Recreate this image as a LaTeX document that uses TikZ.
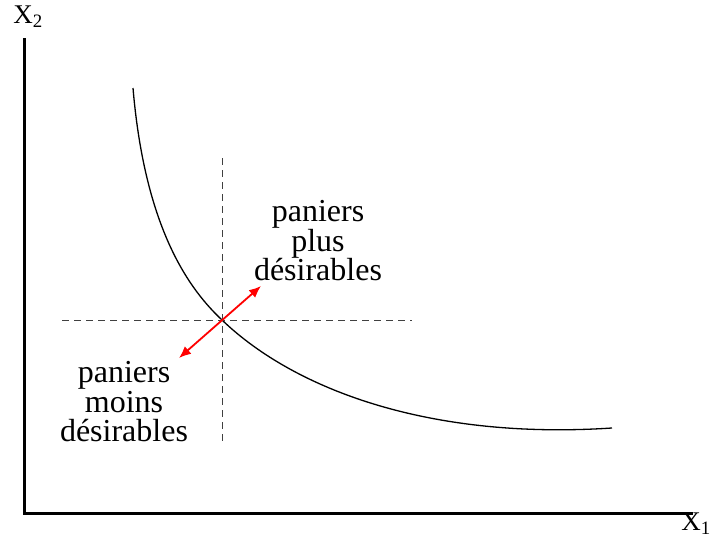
\documentclass[tikz,border=0pt]{standalone}
\usepackage{fontspec}
\setmainfont{Liberation Serif}
\usepackage{tikz}
\usetikzlibrary{arrows.meta}

\begin{document}
\begin{tikzpicture}[x=1pt,y=-1pt]
    \useasboundingbox (0,0) rectangle (713,538);
    % axes
    \coordinate (origin) at (24,513);
    \coordinate (x2-end) at (24,38);
    \coordinate (x1-end) at (693,513);
    \draw[line width=3pt] (x2-end) -- (origin) -- (x1-end);
    \node[font=\fontsize{27}{27}\selectfont] (x2-label) at (28,17) {X\textsubscript{2}};
    \node[font=\fontsize{27}{27}\selectfont, inner sep=0pt, anchor=east] (x1-label) at (711,524) {X\textsubscript{1}};

    % indifference curve
    \coordinate (basket) at (222,320);
    \draw[line width=1.3pt] (133,88) .. controls (145,230) and (190,290) .. (basket)
      .. controls (295,390) and (430,440) .. (612,428);

    % dashed lines through the basket
    \coordinate (v-top) at (222,158);
    \coordinate (v-bot) at (222,443);
    \coordinate (h-left) at (62,320);
    \coordinate (h-right) at (412,320);
    \draw[dashed, thick, black!75, dash pattern=on 7pt off 5pt] (v-top) -- (v-bot);
    \draw[dashed, thick, black!75, dash pattern=on 7pt off 5pt] (h-left) -- (h-right);

    % red arrows
    \coordinate (better) at (261,286);
    \coordinate (worse) at (179,358);
    \draw[{Latex[length=12pt,width=10pt]}-{Latex[length=12pt,width=10pt]},red,line width=1.8pt] (worse) -- (better);

    \begin{scope}[align=center,font=\fontsize{32}{29.5}\selectfont]
      \node (plus) at (318,241) {paniers\\plus\\désirables};
      \node (moins) at (124,402) {paniers\\moins\\désirables};
    \end{scope}
  \end{tikzpicture}
\end{document}
